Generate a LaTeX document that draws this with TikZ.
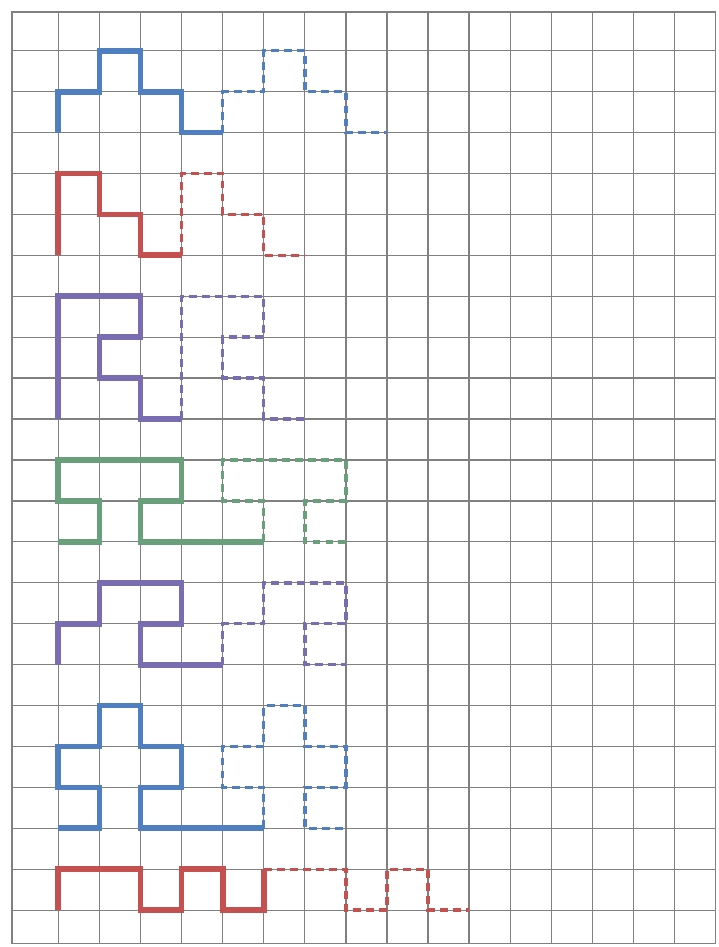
\documentclass[tikz,border=0pt]{standalone}
\usepackage{tikz}
\usepackage{xcolor}
\definecolor{Pat_Blue}{HTML}{4F7FC0}
\definecolor{Pat_Red}{HTML}{C4504F}
\definecolor{Pat_Purple}{HTML}{7A6CB0}
\definecolor{Pat_Green}{HTML}{6A9F7C}
\tikzset{
    gridline/.style={black!50, line width=0.9pt},
    solidrun/.style={line width=4pt, line join=miter},
    dashrun/.style={line width=2.4pt, dash pattern=on 5.5pt off 3.5pt},
}

\begin{document}
\begin{tikzpicture}[x=1cm, y={(0,-0.9963cm)}]

    % Cells are 1 unit wide, rows counted downwards
    \useasboundingbox (-1.42,-1.24) rectangle (16.06,21.9);

    % === Squared paper ===
    \foreach \c in {0,...,15} \draw[gridline] (\c,-0.95) -- (\c,21.81);
    \foreach \r in {0,...,21} \draw[gridline] (-1.13,\r) -- (16,\r);
    \draw[gridline] (-1.13,-0.95) rectangle (16,21.81);

    % === Pattern 1 (blue, rows 0-2) ===
    \draw[solidrun, Pat_Blue] (0,2) -- (0,1) -- (1,1) -- (1,0) -- (2,0) -- (2,1) -- (3,1) -- (3,2) -- (4,2);
    \draw[dashrun, Pat_Blue] (4,2) -- (4,1) -- (5,1) -- (5,0) -- (6,0) -- (6,1) -- (7,1) -- (7,2) -- (8,2);

    % === Pattern 2 (red, rows 3-5) ===
    \draw[solidrun, Pat_Red] (0,5) -- (0,3) -- (1,3) -- (1,4) -- (2,4) -- (2,5) -- (3,5);
    \draw[dashrun, Pat_Red] (3,5) -- (3,3) -- (4,3) -- (4,4) -- (5,4) -- (5,5) -- (6,5);

    % === Pattern 3 (purple, rows 6-9) ===
    \draw[solidrun, Pat_Purple] (0,9) -- (0,6) -- (2,6) -- (2,7) -- (1,7) -- (1,8) -- (2,8) -- (2,9) -- (3,9);
    \draw[dashrun, Pat_Purple] (3,9) -- (3,6) -- (5,6) -- (5,7) -- (4,7) -- (4,8) -- (5,8) -- (5,9) -- (6,9);

    % === Pattern 4 (green, rows 10-12) ===
    \draw[solidrun, Pat_Green] (0,12) -- (1,12) -- (1,11) -- (0,11) -- (0,10) -- (3,10) -- (3,11) -- (2,11) -- (2,12) -- (5,12);
    \draw[dashrun, Pat_Green] (5,12) -- (5,11) -- (4,11) -- (4,10) -- (7,10) -- (7,11) -- (6,11) -- (6,12) -- (7,12);

    % === Pattern 5 (purple, rows 13-15) ===
    \draw[solidrun, Pat_Purple] (0,15) -- (0,14) -- (1,14) -- (1,13) -- (3,13) -- (3,14) -- (2,14) -- (2,15) -- (4,15);
    \draw[dashrun, Pat_Purple] (4,15) -- (4,14) -- (5,14) -- (5,13) -- (7,13) -- (7,14) -- (6,14) -- (6,15) -- (7,15);

    % === Pattern 6 (blue, rows 16-19) ===
    \draw[solidrun, Pat_Blue] (0,19) -- (1,19) -- (1,18) -- (0,18) -- (0,17) -- (1,17) -- (1,16) -- (2,16) -- (2,17) -- (3,17) -- (3,18) -- (2,18) -- (2,19) -- (5,19);
    \draw[dashrun, Pat_Blue] (5,19) -- (5,18) -- (4,18) -- (4,17) -- (5,17) -- (5,16) -- (6,16) -- (6,17) -- (7,17) -- (7,18) -- (6,18) -- (6,19) -- (7,19);

    % === Pattern 7 (red, rows 20-21) ===
    \draw[solidrun, Pat_Red] (0,21) -- (0,20) -- (2,20) -- (2,21) -- (3,21) -- (3,20) -- (4,20) -- (4,21) -- (5,21) -- (5,20);
    \draw[dashrun, Pat_Red] (5,20) -- (7,20) -- (7,21) -- (8,21) -- (8,20) -- (9,20) -- (9,21) -- (10,21);

\end{tikzpicture}
\end{document}
